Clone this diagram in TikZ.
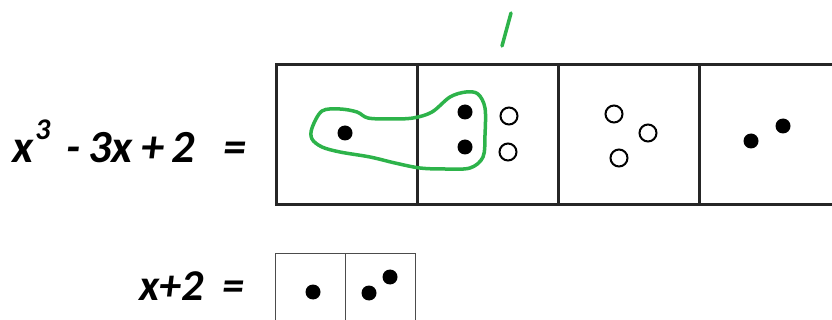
\documentclass[tikz,border=0pt]{standalone}
\usepackage{fontspec}
\setmainfont{Carlito}
\definecolor{pen}{HTML}{2DB34A}
\begin{document}
\begin{tikzpicture}[x=1pt,y=-1pt,
  lbl/.style={font=\fontsize{46}{50}\selectfont\bfseries\itshape, inner sep=0pt, anchor=base west},
  lbls/.style={font=\fontsize{44}{48}\selectfont\bfseries\itshape, inner sep=0pt, anchor=base west},
  sup/.style={font=\fontsize{30}{32}\selectfont\bfseries\itshape, inner sep=0pt, anchor=base west},
  bigcell/.style={draw=black!85, line width=3pt, minimum width=141pt, minimum height=140pt, inner sep=0pt, anchor=north west},
  smallcell/.style={draw=black!70, line width=1.3pt, minimum width=70pt, minimum height=90pt, inner sep=0pt, anchor=north west},
  full/.style={circle, fill=black, minimum size=15pt, inner sep=0pt},
  empty/.style={circle, draw=black, line width=2pt, minimum size=17pt, inner sep=0pt},
  ink/.style={draw=pen, line width=3.5pt, line cap=round, line join=round}]
\useasboundingbox (0,0) rectangle (832,320);
\clip (0,0) rectangle (832,320);
\fill[white] (0,0) rectangle (832,320);
% labels, top
\node[lbl] (px) at (12,163) {x};
\node[sup] (p3) at (35,140) {3};
\node[lbl] (pm) at (66,163) {-};
\node[lbl] (p3x) at (88,163) {3x};
\node[lbl] (pp) at (141,163) {+};
\node[lbl] (p2) at (171,163) {2};
\node[lbl] (peq) at (223,163) {=};
% labels, bottom
\node[lbls] (lin) at (139,300) {x+2};
\node[lbls] (leq) at (222,300) {=};
% top row of cells
\node[bigcell] (c1) at (275,63) {};
\node[bigcell] (c2) at (416,63) {};
\node[bigcell] (c3) at (557,63) {};
\node[bigcell, minimum width=160pt] (c4) at (698,63) {};
% bottom cells
\node[smallcell] (d1) at (275,253) {};
\node[smallcell] (d2) at (345,253) {};
% dots
\node[full] (a1) at (345,133) {};
\node[full] (b1) at (465,112) {};
\node[full] (b2) at (465,147) {};
\node[empty] (b3) at (509,116) {};
\node[empty] (b4) at (508,152) {};
\node[empty] (e1) at (614,114) {};
\node[empty] (e2) at (648,133) {};
\node[empty] (e3) at (619,158) {};
\node[full] (f1) at (751,141) {};
\node[full] (f2) at (783,126) {};
\node[full] (g1) at (313,292) {};
\node[full] (h1) at (369,293) {};
\node[full] (h2) at (390,277) {};
% green marks
\coordinate (s1) at (502,46);
\coordinate (s2) at (511,13);
\draw[ink] (s1) -- (s2);
\draw[ink] plot[smooth cycle, tension=0.55] coordinates {
  (312,128) (322,111) (340,109) (357,112) (368,118) (390,119) (413,118)
  (432,112) (450,97) (466,92) (478,94) (485,108) (485,135) (483,157)
  (470,168) (445,169) (420,168) (395,163) (370,157) (340,152) (322,147) (312,139)};
\end{tikzpicture}
\end{document}
